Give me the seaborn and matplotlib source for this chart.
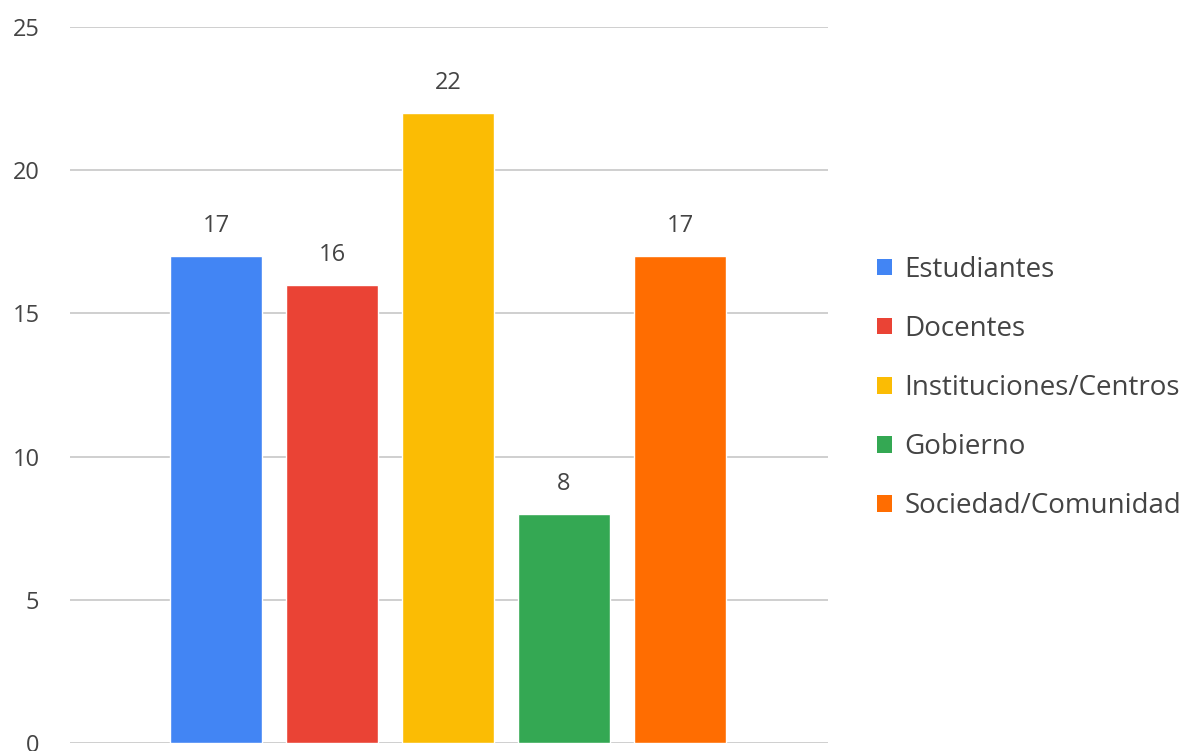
import matplotlib
matplotlib.use("Agg")
import matplotlib.pyplot as plt
import seaborn as sns
import pandas as pd
from matplotlib.patches import Patch

categories = ["Estudiantes", "Docentes", "Instituciones/Centros", "Gobierno", "Sociedad/Comunidad"]
values = [17, 16, 22, 8, 17]
colors = ["#4285F4", "#EA4335", "#FBBC04", "#34A853", "#FF6D01"]
yticks = [0, 5, 10, 15, 20, 25]

sns.set_theme(style="white")
plt.rcParams["font.family"] = ["Open Sans", "DejaVu Sans"]

df = pd.DataFrame({"cat": categories, "val": values})

fig = plt.figure(figsize=(12.01, 7.51), dpi=100)
ax = fig.add_axes([70/1201, 8/751, 758/1201, 716/751])

sns.barplot(data=df, x="cat", y="val", hue="cat", palette=colors,
            order=categories, hue_order=categories, dodge=False,
            width=0.793, legend=False, ax=ax, saturation=1)

for c in ax.containers:
    ax.bar_label(c, fmt="%d", padding=13, fontsize=17, color="#444444")

ax.set_ylim(0, 25)
ax.set_xlim(-1.259, 5.276)
ax.set_yticks(yticks)
ax.set_yticklabels([str(t) for t in yticks], fontsize=17, color="#444444")
ax.set_xticks([])
ax.set_xlabel("")
ax.set_ylabel("")
ax.tick_params(axis="y", length=0, pad=22)
ax.grid(axis="y", color="#cccccc", linewidth=1.3)
ax.set_axisbelow(True)
for s in ax.spines.values():
    s.set_visible(False)

handles = [Patch(facecolor=c, edgecolor="none") for c in colors]
fig.legend(handles, categories, loc="center left", bbox_to_anchor=(877/1201, 1 - 388/751),
           frameon=False, fontsize=20, labelcolor="#444444",
           handlelength=0.55, handleheight=0.55, handletextpad=0.43,
           labelspacing=1.12, borderpad=0, borderaxespad=0)

fig.savefig("out.png", dpi=100, facecolor="white")
